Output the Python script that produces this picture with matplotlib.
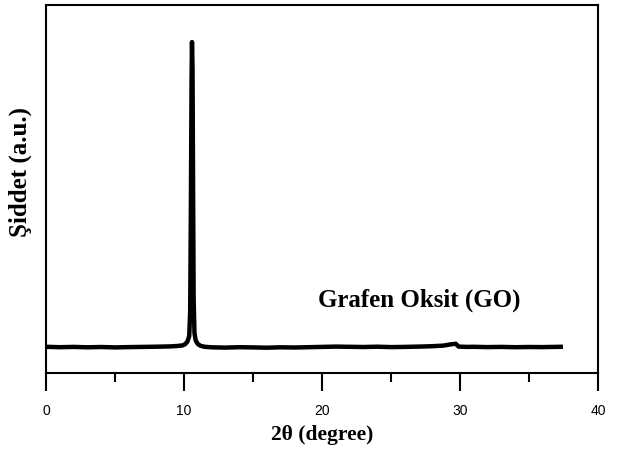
import matplotlib
matplotlib.use('Agg')
import matplotlib.pyplot as plt
from matplotlib.ticker import MultipleLocator

# baseline before the peak (counts), hand
base_x = [0.0, 1.0, 2.0, 3.0, 4.0, 5.0, 6.0, 7.0, 8.0, 9.0, 9.5, 9.9]
base_y = [122, 118, 121, 117, 120, 116, 119, 121, 123, 126, 130, 136]

# the GO (001) peak
peak_x = [10.1, 10.25, 10.38, 10.45, 10.5, 10.55, 10.58, 10.62, 10.66, 10.7,
          10.76, 10.85, 11.0, 11.2, 11.5]
peak_y = [150, 175, 230, 480, 1500, 2800, 3170, 2900, 1700, 600, 260, 185, 150, 132, 122]

# baseline after the peak
tail_x = [12.0, 13.0, 14.0, 15.0, 16.0, 17.0, 18.0, 19.0, 20.0, 21.0, 22.0,
          23.0, 24.0, 25.0, 26.0, 27.0, 28.0, 28.8, 29.4, 29.7, 29.9, 30.5,
          31.0, 32.0, 33.0, 34.0, 35.0, 36.0, 37.3]
tail_y = [117, 114, 118, 116, 113, 117, 115, 118, 121, 124, 122, 120, 123, 119,
          121, 124, 128, 134, 148, 152, 124, 121, 122, 119, 121, 118, 120, 119, 122]

xs = base_x + peak_x + tail_x
ys = base_y + peak_y + tail_y

fig = plt.figure(figsize=(6.18, 4.57), dpi=100)
ax = fig.add_axes([0.0744, 0.1838, 0.8932, 0.8052])

ax.plot(xs, ys, color='black', lw=3.2, solid_joinstyle='round')

ax.set_xlim(0, 40)
ax.set_ylim(-140, 3540)
ax.xaxis.set_major_locator(MultipleLocator(10))
ax.xaxis.set_minor_locator(MultipleLocator(5))
ax.set_yticks([])
ax.tick_params(axis='x', which='major', direction='out', length=13, width=1.5,
               pad=9, labelsize=10)
ax.tick_params(axis='x', which='minor', direction='out', length=6.5, width=1.5)
for lab in ax.get_xticklabels():
    lab.set_fontfamily('Liberation Sans')
for s in ax.spines.values():
    s.set_linewidth(1.5)

ax.set_xlabel('2θ (degree)', family='Liberation Serif', weight='bold',
              size=15.5, labelpad=5)
ax.set_ylabel('Şiddet (a.u.)', family='Liberation Serif', weight='bold',
              size=18)
ax.yaxis.set_label_coords(-0.026, 0.545)
ax.text(19.7, 590, 'Grafen Oksit (GO)', ha='left', va='center',
        family='Liberation Serif', weight='bold', size=18)

fig.savefig('out.png', dpi=100)
